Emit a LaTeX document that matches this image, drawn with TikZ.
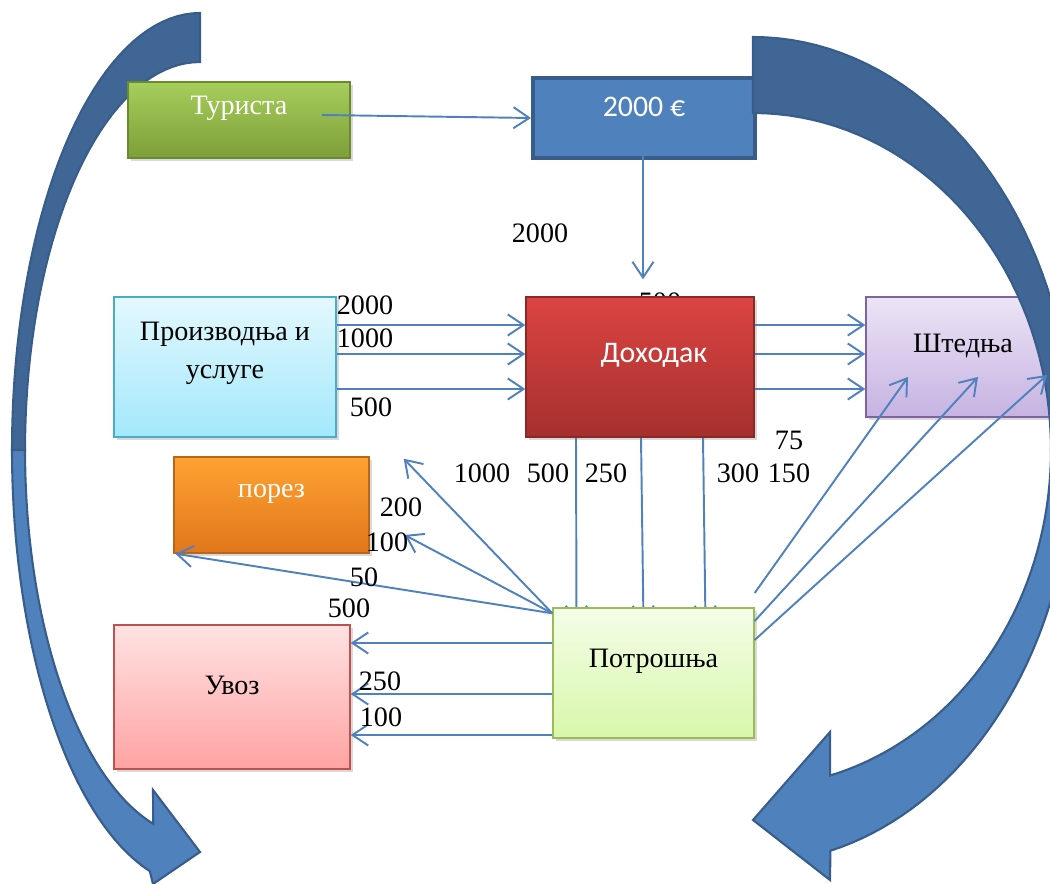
\documentclass[tikz,border=0pt]{standalone}
\usepackage{fontspec}
\setmainfont{Liberation Serif}
\newfontfamily\calfont{Carlito}
\usepackage{tikz}
\usetikzlibrary{arrows.meta,calc,shadows}

\definecolor{flowblue}{HTML}{4F81BD}
\definecolor{arcdark}{HTML}{3F6695}
\definecolor{arcedge}{HTML}{385D8A}
\definecolor{touristtop}{HTML}{A6CE5C}
\definecolor{touristbot}{HTML}{7E9E38}
\definecolor{touristline}{HTML}{6A8A2E}
\definecolor{incometop}{HTML}{DC4442}
\definecolor{incomebot}{HTML}{A5302E}
\definecolor{incomeline}{HTML}{8A2826}
\definecolor{prodtop}{HTML}{E3F8FE}
\definecolor{prodbot}{HTML}{A3E8FB}
\definecolor{prodline}{HTML}{4BACC6}
\definecolor{savetop}{HTML}{ECE4F6}
\definecolor{savebot}{HTML}{C6B3E2}
\definecolor{saveline}{HTML}{8064A2}
\definecolor{taxtop}{HTML}{FFA232}
\definecolor{taxbot}{HTML}{E1771C}
\definecolor{taxline}{HTML}{B8661C}
\definecolor{importtop}{HTML}{FFE2E2}
\definecolor{importbot}{HTML}{FFA3A3}
\definecolor{importline}{HTML}{C0504D}
\definecolor{constop}{HTML}{F4FDE8}
\definecolor{consbot}{HTML}{D8F7AA}
\definecolor{consline}{HTML}{9BBB59}

\newcommand{\lift}[1]{\raisebox{6.5pt}[\height][\depth]{#1}}

\pgfdeclarelayer{back}
\pgfsetlayers{back,main}

\begin{document}
\begin{tikzpicture}[x=0.02cm, y=-0.02cm,
    box/.style={draw, line width=0.8pt, inner sep=0pt, font=\fontsize{16}{19}\selectfont},
    shadowed/.style={drop shadow={shadow xshift=1.5pt, shadow yshift=-1.5pt, opacity=0.3}},
    flow/.style={flowblue, line width=1.1pt, -{Straight Barb[length=9pt,width=12pt]}},
    num/.style={font=\fontsize{16}{19}\selectfont, inner sep=0pt}]
    \useasboundingbox (0,0) rectangle (1050,884);
    \clip (0,0) rectangle (1050,884);

    % left big arrow
    \filldraw[fill=arcdark, draw=arcedge, line width=1.2pt]
      plot[domain=270:180, samples=40] ({200+188*cos(\x)}, {450+437*sin(\x)})
      -- plot[domain=180:270, samples=40] ({200+175*cos(\x)}, {450+388*sin(\x)}) -- cycle;
    \filldraw[fill=flowblue, draw=arcedge, line width=1.2pt]
      plot[domain=180:105.5, samples=40] ({200+188*cos(\x)}, {450+437*sin(\x)})
      -- (153,884) -- (200,852) -- (153,790)
      -- plot[domain=105.5:180, samples=40] ({200+175*cos(\x)}, {450+388*sin(\x)}) -- cycle;

    \node[num] (hid) at (660,302) {500};

    \node[box, shadowed, top color=touristtop, bottom color=touristbot, draw=touristline,
      text=white, minimum width=4.44cm, minimum height=1.52cm]
      (tourist) at (239,120) {\lift{Туриста}};
    \node[box, fill=flowblue, draw=arcedge, line width=2.3pt, text=white,
      font=\calfont\fontsize{17}{20}\selectfont, minimum width=4.44cm, minimum height=1.6cm]
      (euro) at (644,118) {\lift{2000 €}};
    \node[box, shadowed, top color=incometop, bottom color=incomebot, draw=incomeline,
      text=white, font=\calfont\fontsize{17}{20}\selectfont, minimum width=4.56cm, minimum height=2.8cm]
      (income) at (640,367) {\hspace*{0.56cm}\lift{Доходак}};
    \node[box, shadowed, top color=prodtop, bottom color=prodbot, draw=prodline,
      minimum width=4.44cm, minimum height=2.8cm]
      (prod) at (225,367) {\raisebox{8pt}[\height][\depth]{\begin{tabular}{@{}c@{}}Производња и\\[3pt]услуге\end{tabular}}};
    \node[box, shadowed, top color=savetop, bottom color=savebot, draw=saveline,
      minimum width=3.88cm, minimum height=2.4cm]
      (saving) at (963,357) {\lift{Штедња}};
    \node[box, shadowed, top color=taxtop, bottom color=taxbot, draw=taxline,
      text=white, minimum width=3.9cm, minimum height=1.92cm]
      (tax) at (271.5,505) {\lift{порез}};
    \node[box, shadowed, top color=importtop, bottom color=importbot, draw=importline,
      minimum width=4.72cm, minimum height=2.88cm]
      (import) at (232,697) {\lift{Увоз}};
    \node[box, shadowed, top color=constop, bottom color=consbot, draw=consline,
      minimum width=4.02cm, minimum height=2.6cm]
      (cons) at (653.5,673) {\lift{Потрошња}};

    % right big arrow
    \filldraw[fill=arcdark, draw=arcedge, line width=1.2pt]
      plot[domain=270:360, samples=40] ({753+320*cos(\x)}, {450+413*sin(\x)})
      -- plot[domain=360:270, samples=40] ({753+298*cos(\x)}, {450+337*sin(\x)}) -- cycle;
    \filldraw[fill=flowblue, draw=arcedge, line width=1.2pt]
      plot[domain=0:76, samples=40] ({753+320*cos(\x)}, {450+413*sin(\x)})
      -- (830,880) -- (753,820) -- (830,732)
      -- plot[domain=75:0, samples=40] ({753+298*cos(\x)}, {450+337*sin(\x)}) -- cycle;

    \draw[flow] ($(tourist.center)+(83,-5)$) -- (euro.west);
    \draw[flow] ($(euro.center)+(-1,22)$) -- ($(income.north)+(3,-17)$);
    \foreach \dy in {-42,-13,22}
      \draw[flow] ($(prod.east)+(0,\dy)$) -- ($(income.west)+(0,\dy)$);
    \foreach \a/\b in {-42/-32,-13/-3,22/32}
      \draw[flow] ($(income.east)+(0,\a)$) -- ($(saving.west)+(0,\b)$);
    \begin{pgfonlayer}{back}
      \foreach \a/\b in {-64/-77,1/-10,63/52}
        \draw[flow] ($(income.south)+(\a,0)$) -- ($(cons.north)+(\b,16)$);
    \end{pgfonlayer}
    \draw[flow] ($(cons.north west)+(0,6)$) -- ($(prod.south east)+(67,21)$);
    \draw[flow] ($(cons.north west)+(0,6)$) -- ($(tax.east)+(35,30)$);
    \draw[flow] ($(cons.north west)+(0,6)$) -- ($(tax.south west)+(2,0)$);
    \foreach \a/\b in {-30/-54,21/-3,62/38}
      \draw[flow] ($(cons.west)+(0,\a)$) -- ($(import.east)+(0,\b)$);
    \foreach \s/\ex/\ey in {-80/-55/20,-52/15/20,-33/84/18}
      \draw[flow] ($(cons.east)+(0,\s)$) -- ($(saving.center)+(\ex,\ey)$);

    \node[num] (top2000) at (540,233) {2000};
    \node[num] (in2000) at (365,305) {2000};
    \node[num] (in1000) at (365,338) {1000};
    \node[num] (in500) at (371,407) {500};
    \node[num] (out1000) at (482,473) {1000};
    \node[num] (out500) at (548,473) {500};
    \node[num] (out250) at (606,473) {250};
    \node[num] (out300) at (738,473) {300};
    \node[num] (out150) at (789,473) {150};
    \node[num] (out75) at (789,440) {75};
    \node[num] (tx200) at (401,507) {200};
    \node[num] (tx100) at (387,542) {100};
    \node[num] (tx50) at (364,577) {50};
    \node[num] (im500) at (349,608) {500};
    \node[num] (im250) at (380,681) {250};
    \node[num] (im100) at (381,717) {100};
\end{tikzpicture}
\end{document}
